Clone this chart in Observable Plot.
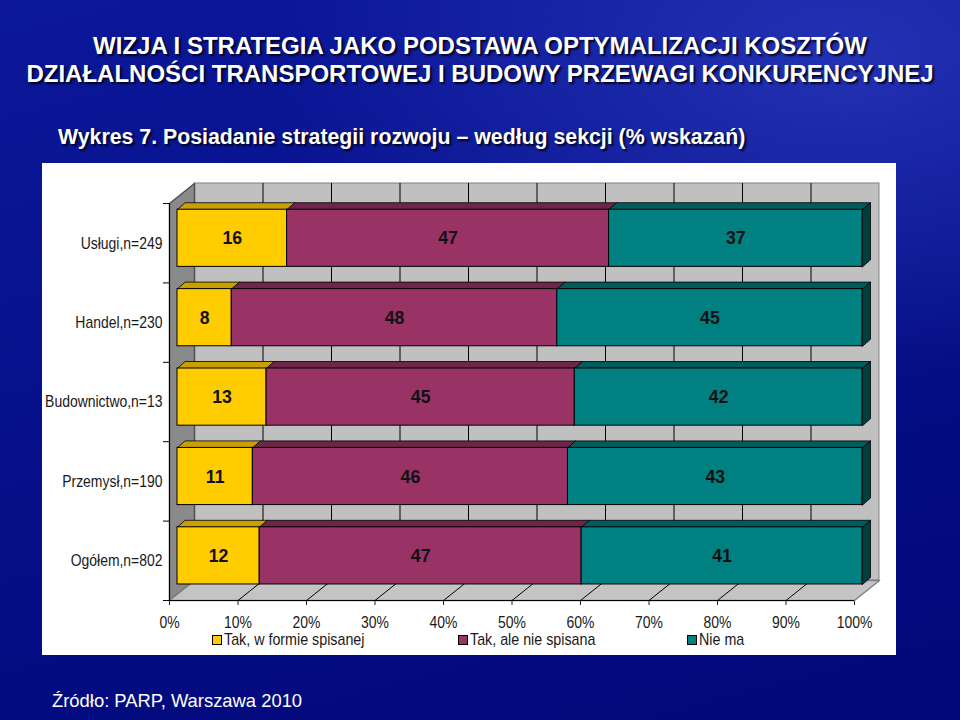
<!DOCTYPE html>
<html>
<head>
<meta charset="utf-8">
<script src="https://cdn.jsdelivr.net/npm/d3@7"></script>
<script src="https://cdn.jsdelivr.net/npm/@observablehq/plot@0.6"></script>
<style>
html, body { margin: 0; padding: 0; }
body {
  width: 960px; height: 720px; overflow: hidden; position: relative;
  font-family: "Liberation Sans", Arial, sans-serif;
  background:
    radial-gradient(ellipse 60% 45% at 88% 8%, rgba(60,80,215,0.5) 0%, rgba(40,60,200,0) 100%),
    linear-gradient(165deg, #0c189a 0%, #08128e 35%, #040c82 70%, #010878 100%);
}
.title {
  position: absolute; left: 0; width: 960px; text-align: center;
  color: #fff; font-weight: bold; font-size: 24px; line-height: 28px; white-space: nowrap;
  text-shadow: 2px 2px 2px rgba(0,0,20,0.9);
}
.subtitle {
  position: absolute; left: 58px; top: 127px; color: #fff; font-weight: bold;
  font-size: 21.3px; line-height: 21px; white-space: nowrap;
  text-shadow: 2px 2px 2px rgba(0,0,20,0.9);
}
.source {
  position: absolute; left: 52px; top: 692px; color: #fff;
  font-size: 18.4px; line-height: 18px; white-space: nowrap;
}
#panel {
  position: absolute; left: 42px; top: 163px; width: 854px; height: 492px;
  background: #fff;
}
#chart svg { display: block; overflow: visible; }
#legend {
  position: absolute; left: 0; top: 468px; height: 18px; width: 854px;
  font-family: "Liberation Sans", Arial, sans-serif;
  font-size: 17px; color: #1a1a1a; white-space: nowrap;
}
#legend .item { position: absolute; top: 0; height: 18px; display: flex; align-items: center; }
#legend .sw { width: 8px; height: 8px; border: 1px solid #000; margin-right: 2px; }
#legend .tx { display: inline-block; transform: scaleX(0.84); transform-origin: 0 50%; line-height: 18px; }
</style>
</head>
<body>
<div class="title" style="top:32px">WIZJA I STRATEGIA JAKO PODSTAWA OPTYMALIZACJI KOSZTÓW</div>
<div class="title" style="top:60px">DZIAŁALNOŚCI TRANSPORTOWEJ I BUDOWY PRZEWAGI KONKURENCYJNEJ</div>
<div class="subtitle">Wykres 7. Posiadanie strategii rozwoju – według sekcji (% wskazań)</div>
<div id="panel"><div id="chart"></div><div id="legend"></div></div>
<div class="source">Źródło: PARP, Warszawa 2010</div>
<script>
// ---------- data ----------
const categories = ["Usługi,n=249", "Handel,n=230", "Budownictwo,n=13", "Przemysł,n=190", "Ogółem,n=802"];
const seriesNames = ["Tak, w formie spisanej", "Tak, ale nie spisana", "Nie ma"];
const writtenPct   = [16, 8, 13, 11, 12];
const unwrittenPct = [47, 48, 45, 46, 47];
const nonePct      = [37, 45, 42, 43, 41];
const xTickValues  = [0, 10, 20, 30, 40, 50, 60, 70, 80, 90, 100];

// ---------- style / layout ----------
const seriesColors    = ["#FFCC00", "#993366", "#008080"];
const seriesTopColors = ["#C9A000", "#6E2549", "#005C5C"];
const sideColor = "#003D3D";
const legendLeft = [170, 416, 645];   // px inside the panel

const W = 854, H = 470, mL = 127, mR = 42, mT = 40, mB = 33;
const n = categories.length;
const kx = 100 / (W - mL - mR);      // % per pixel
const ky = n / (H - mT - mB);        // band units per pixel
const WALL = {x: 25 * kx, y: 20 * ky};
const BAR = {dx: 8, dy: -6.5, depthX: 8 * kx, depthY: 7 * ky, top: 0.16, bottom: 0.88};

const valuesBySeries = [writtenPct, unwrittenPct, nonePct];

// stacked (100%) rows
const rows = [];
categories.forEach((c, i) => {
  const vals = valuesBySeries.map(s => s[i]);
  const total = d3.sum(vals);
  let acc = 0;
  vals.forEach((v, j) => {
    const x1 = acc / total * 100; acc += v; const x2 = acc / total * 100;
    rows.push({category: c, i, j, series: seriesNames[j], value: v, x1, x2, y1: i + BAR.top, y2: i + BAR.bottom});
  });
});

// 3D faces of the bars
const topFaces = [];
rows.forEach((r, k) => {
  topFaces.push(
    {id: k, j: r.j, x: r.x1, y: r.y1},
    {id: k, j: r.j, x: r.x2, y: r.y1},
    {id: k, j: r.j, x: r.x2 + BAR.depthX, y: r.y1 - BAR.depthY},
    {id: k, j: r.j, x: r.x1 + BAR.depthX, y: r.y1 - BAR.depthY}
  );
});
const sideFaces = [];
rows.filter(r => r.j === seriesNames.length - 1).forEach((r, k) => {
  sideFaces.push(
    {id: k, x: r.x2, y: r.y1},
    {id: k, x: r.x2 + BAR.depthX, y: r.y1 - BAR.depthY},
    {id: k, x: r.x2 + BAR.depthX, y: r.y2 - BAR.depthY},
    {id: k, x: r.x2, y: r.y2}
  );
});

// walls
const backWall = [{x1: WALL.x, x2: 100 + WALL.x, y1: -WALL.y, y2: n - WALL.y}];
const leftWall = [{x: 0, y: 0}, {x: WALL.x, y: -WALL.y}, {x: WALL.x, y: n - WALL.y}, {x: 0, y: n}];
const floor = [{x: 0, y: n}, {x: 100, y: n}, {x: 100 + WALL.x, y: n - WALL.y}, {x: WALL.x, y: n - WALL.y}];
const innerGrid = xTickValues.filter(v => v > 0 && v < 100);

const mid = d => (d.x1 + d.x2) / 2;

const chart = Plot.plot({
  width: W, height: H,
  marginLeft: mL, marginRight: mR, marginTop: mT, marginBottom: mB,
  style: {
    fontFamily: '"Liberation Sans", Arial, sans-serif',
    fontSize: "17px", color: "#1a1a1a", background: "transparent", overflow: "visible"
  },
  x: {domain: [0, 100], ticks: xTickValues, tickFormat: d => d + "%", tickSize: 5, tickPadding: 10, label: null},
  y: {domain: [0, n], reverse: true, ticks: categories.map((c, i) => i + 0.5),
      tickFormat: t => categories[Math.floor(t)], tickSize: 0, tickPadding: 7, label: null},
  color: {domain: seriesNames, range: seriesColors},
  marks: [
    Plot.rect(backWall, {x1: "x1", x2: "x2", y1: "y1", y2: "y2", fill: "#c0c0c0", stroke: "#808080"}),
    Plot.line(leftWall, {x: "x", y: "y", fill: "#8a8a8a", stroke: "#505050", curve: "linear-closed"}),
    Plot.line(floor, {x: "x", y: "y", fill: "#c4c4c4", stroke: "#808080", curve: "linear-closed"}),
    Plot.ruleX(innerGrid, {x: d => d + WALL.x, y1: () => -WALL.y, y2: () => n - WALL.y, stroke: "#000", strokeWidth: 1}),
    Plot.link(innerGrid, {x1: d => d, y1: () => n, x2: d => d + WALL.x, y2: () => n - WALL.y, stroke: "#000", strokeWidth: 1}),
    ...seriesNames.map((s, j) =>
      Plot.line(topFaces.filter(p => p.j === j), {x: "x", y: "y", z: "id", fill: seriesTopColors[j],
        stroke: "#000", strokeWidth: 0.8, curve: "linear-closed", dx: BAR.dx, dy: BAR.dy})),
    Plot.line(sideFaces, {x: "x", y: "y", z: "id", fill: sideColor, stroke: "#000", strokeWidth: 0.8,
      curve: "linear-closed", dx: BAR.dx, dy: BAR.dy}),
    Plot.rect(rows, {x1: "x1", x2: "x2", y1: "y1", y2: "y2", fill: "series", stroke: "#000", strokeWidth: 1,
      dx: BAR.dx, dy: BAR.dy}),
    Plot.text(rows, {x: mid, y: d => d.i + 0.52, text: d => String(d.value), dx: BAR.dx, dy: BAR.dy,
      fontWeight: "bold", fontSize: 19, fill: "#111"}),
    Plot.ruleX([0], {y1: () => 0, y2: () => n, stroke: "#000"}),
    Plot.ruleY([n], {x1: () => 0, x2: () => 100, stroke: "#000"}),
    Plot.ruleY(d3.range(n + 1), {x1: () => -6 * kx, x2: () => 0, stroke: "#000"})
  ]
});
document.getElementById("chart").appendChild(chart);

// narrow the chart's lettering like the (horizontally squeezed) original
chart.querySelectorAll("text").forEach(t => {
  const isValue = t.getAttribute("font-weight") === "bold" ||
    (t.parentNode && t.parentNode.getAttribute && t.parentNode.getAttribute("font-weight") === "bold");
  const w = t.getComputedTextLength();
  if (w > 0) {
    t.setAttribute("textLength", (w * (isValue ? 0.93 : 0.82)).toFixed(1));
    t.setAttribute("lengthAdjust", "spacingAndGlyphs");
  }
});

// legend
const legend = document.getElementById("legend");
seriesNames.forEach((s, j) => {
  const item = document.createElement("div");
  item.className = "item";
  item.style.left = legendLeft[j] + "px";
  const sw = document.createElement("span");
  sw.className = "sw";
  sw.style.background = seriesColors[j];
  const tx = document.createElement("span");
  tx.className = "tx";
  tx.textContent = s;
  item.appendChild(sw); item.appendChild(tx);
  legend.appendChild(item);
});
</script>
</body>
</html>
